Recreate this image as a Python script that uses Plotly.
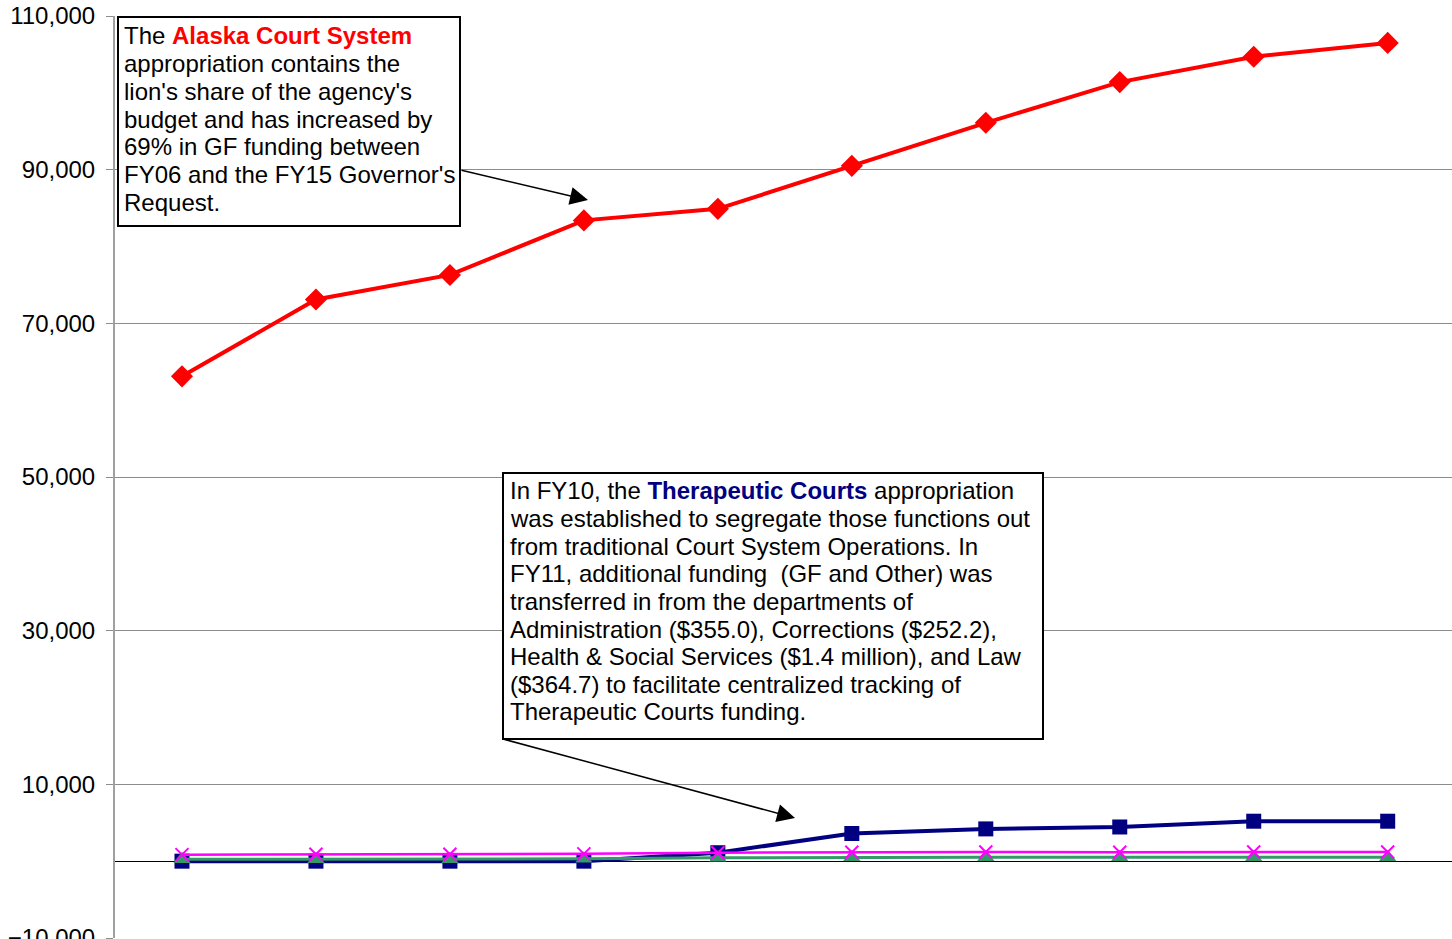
import plotly.graph_objects as go

# ---- data (thousands of dollars) ----
categories = ["FY06", "FY07", "FY08", "FY09", "FY10", "FY11", "FY12", "FY13", "FY14", "FY15"]
court_system = [63100, 73100, 76300, 83400, 84900, 90500, 96100, 101400, 104700, 106500]
therapeutic_courts = [0, 0, 0, 0, 1100, 3600, 4200, 4450, 5200, 5200]
judicial_conduct = [250, 250, 250, 300, 450, 500, 500, 500, 500, 500]
judicial_council = [850, 900, 900, 950, 1100, 1150, 1200, 1150, 1200, 1200]

y_ticks = [-10000, 10000, 30000, 50000, 70000, 90000, 110000]

FONT = "Liberation Sans, Arial, sans-serif"
W, H = 1452, 939
L, R, T, B = 115, 0, 16, 1
PW, PH = W - L - R, H - T - B


def px(x):
    """page pixel x -> paper"""
    return (x - L) / PW


def py(y):
    """page pixel y -> paper"""
    return (H - B - y) / PH


fig = go.Figure()
fig.add_trace(go.Scatter(x=categories, y=court_system, name="Alaska Court System",
                         mode="lines+markers", line=dict(color="#FF0000", width=4),
                         marker=dict(symbol="diamond", size=17, color="#FF0000")))
fig.add_trace(go.Scatter(x=categories, y=therapeutic_courts, name="Therapeutic Courts",
                         mode="lines+markers", line=dict(color="#000080", width=4),
                         marker=dict(symbol="square", size=15, color="#000080")))
fig.add_trace(go.Scatter(x=categories, y=judicial_conduct, name="Commission on Judicial Conduct",
                         mode="lines+markers", line=dict(color="#339966", width=3),
                         marker=dict(symbol="triangle-up", size=15, color="#339966")))
fig.add_trace(go.Scatter(x=categories, y=judicial_council, name="Judicial Council",
                         mode="lines+markers", line=dict(color="#FF00FF", width=2.5),
                         marker=dict(symbol="x-thin", size=13, line=dict(color="#FF00FF", width=2))))

# annotation boxes (page pixel coordinates)
boxes = [(118, 17, 460, 226), (503, 473, 1043, 739)]
shapes = []
for x0, y0, x1, y1 in boxes:
    shapes.append(dict(type="rect", xref="paper", yref="paper",
                       x0=px(x0), x1=px(x1), y0=py(y1), y1=py(y0),
                       line=dict(color="black", width=2), fillcolor="white", layer="above"))

box1_lines = [
    "The <b><span style='color:#FF0000'>Alaska Court System</span></b>",
    "appropriation contains the",
    "lion's share of the agency's",
    "budget and has increased by",
    "69% in GF funding between",
    "FY06 and the FY15 Governor's",
    "Request.",
]
box2_lines = [
    "In FY10, the <b><span style='color:#000080'>Therapeutic Courts</span></b> appropriation",
    "was established to segregate those functions out",
    "from traditional Court System Operations. In",
    "FY11, additional funding\u00a0 (GF and Other) was",
    "transferred in from the departments of",
    "Administration ($355.0), Corrections ($252.2),",
    "Health & Social Services ($1.4 million), and Law",
    "($364.7) to facilitate centralized tracking of",
    "Therapeutic Courts funding.",
]

annotations = []


def add_lines(lines, left, first_center, step):
    for i, t in enumerate(lines):
        annotations.append(dict(text=t, xref="paper", yref="paper",
                                x=px(left), y=py(first_center + i * step),
                                xanchor="left", yanchor="middle", showarrow=False,
                                borderpad=0, font=dict(family=FONT, size=24, color="black")))


add_lines(box1_lines, 123, 36, 27.7)
add_lines(box2_lines, 509, 491, 27.6)

arrows = [((460, 170), (588, 200)), ((503, 739), (795, 818))]
for (tx, ty), (hx, hy) in arrows:
    annotations.append(dict(text="", xref="paper", yref="paper", x=px(hx), y=py(hy),
                            ax=tx - hx, ay=ty - hy, axref="pixel", ayref="pixel",
                            showarrow=True, arrowhead=2, arrowsize=2.4, arrowwidth=1.5,
                            arrowcolor="black", standoff=0, startstandoff=0))

fig.update_layout(
    width=W, height=H,
    margin=dict(l=L, r=R, t=T, b=B, autoexpand=False),
    paper_bgcolor="white", plot_bgcolor="white",
    showlegend=False,
    font=dict(family=FONT, size=24, color="black"),
    shapes=shapes, annotations=annotations,
    xaxis=dict(type="category", range=[-0.5, 9.48], showgrid=False, zeroline=False,
               showline=False, showticklabels=False, ticks=""),
    yaxis=dict(range=[-10000, 110000], tickvals=y_ticks, tickformat=",",
               showgrid=True, gridcolor="#8C8C8C", gridwidth=1,
               zeroline=True, zerolinecolor="black", zerolinewidth=1.2,
               showline=True, linecolor="#A0A0A0", linewidth=2,
               ticks="outside", ticklen=7, tickcolor="#8C8C8C", ticklabelstandoff=6,
               ticklabeloverflow="allow",
               automargin=False, tickfont=dict(family=FONT, size=24, color="black")),
)

fig.write_html("out.html", config={"displayModeBar": False},
               post_script="document.body.style.margin='0px';document.body.style.overflow='hidden';")
